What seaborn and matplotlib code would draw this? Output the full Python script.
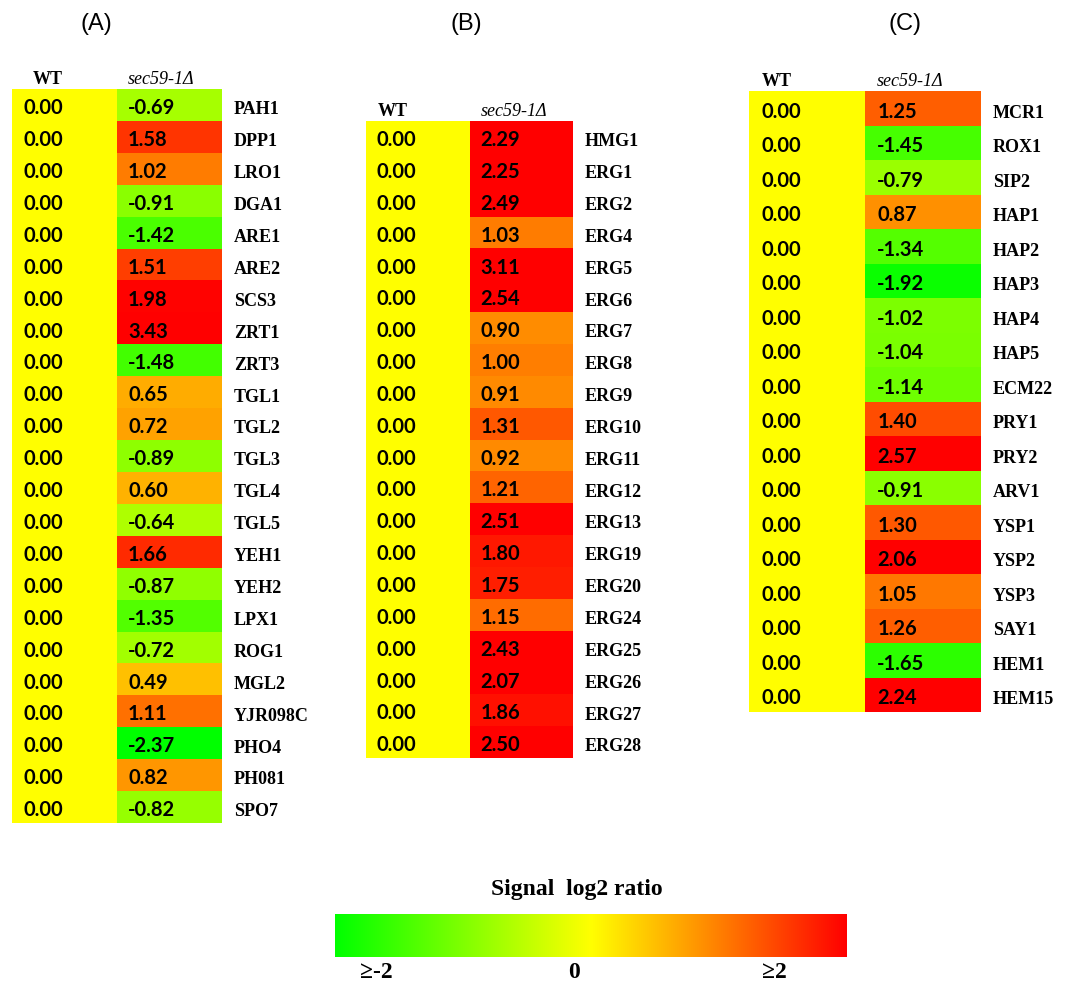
import numpy as np
import pandas as pd
import seaborn as sns
import matplotlib
matplotlib.use("Agg")
import matplotlib.pyplot as plt
from matplotlib.colors import LinearSegmentedColormap

# ---- data -------------------------------------------------------------
genes_a = ["PAH1", "DPP1", "LRO1", "DGA1", "ARE1", "ARE2", "SCS3", "ZRT1",
           "ZRT3", "TGL1", "TGL2", "TGL3", "TGL4", "TGL5", "YEH1", "YEH2",
           "LPX1", "ROG1", "MGL2", "YJR098C", "PHO4", "PH081", "SPO7"]
mut_a = [-0.69, 1.58, 1.02, -0.91, -1.42, 1.51, 1.98, 3.43, -1.48, 0.65,
         0.72, -0.89, 0.60, -0.64, 1.66, -0.87, -1.35, -0.72, 0.49, 1.11,
         -2.37, 0.82, -0.82]

genes_b = ["HMG1", "ERG1", "ERG2", "ERG4", "ERG5", "ERG6", "ERG7", "ERG8",
           "ERG9", "ERG10", "ERG11", "ERG12", "ERG13", "ERG19", "ERG20",
           "ERG24", "ERG25", "ERG26", "ERG27", "ERG28"]
mut_b = [2.29, 2.25, 2.49, 1.03, 3.11, 2.54, 0.90, 1.00, 0.91, 1.31, 0.92,
         1.21, 2.51, 1.80, 1.75, 1.15, 2.43, 2.07, 1.86, 2.50]

genes_c = ["MCR1", "ROX1", "SIP2", "HAP1", "HAP2", "HAP3", "HAP4", "HAP5",
           "ECM22", "PRY1", "PRY2", "ARV1", "YSP1", "YSP2", "YSP3", "SAY1",
           "HEM1", "HEM15"]
mut_c = [1.25, -1.45, -0.79, 0.87, -1.34, -1.92, -1.02, -1.04, -1.14, 1.40,
         2.57, -0.91, 1.30, 2.06, 1.05, 1.26, -1.65, 2.24]

# wild type is the reference strain: log2 ratio 0 for every gene
wt_a = [0.00] * len(genes_a)
wt_b = [0.00] * len(genes_b)
wt_c = [0.00] * len(genes_c)

col_labels = ["WT", "sec59-1\u0394"]
panel_titles = ["(A)", "(B)", "(C)"]
cbar_title = "Signal  log2 ratio"
cbar_labels = ["\u2265-2", "0", "\u22652"]

# ---- figure -----------------------------------------------------------
W, H = 1072, 982
fig = plt.figure(figsize=(W / 100, H / 100), dpi=100)
fig.patch.set_facecolor("white")

cmap = LinearSegmentedColormap.from_list(
    "gyr", [(0.0, "#00ff00"), (0.5, "#ffff00"), (1.0, "#ff0000")])

def px_axes(left, top, right, bottom):
    return fig.add_axes([left / W, 1 - bottom / H, (right - left) / W,
                         (bottom - top) / H])

serif = "Liberation Serif"
panels = [
    (genes_a, wt_a, mut_a, (12, 89, 222, 823), 96, (21, 11)),
    (genes_b, wt_b, mut_b, (366, 121, 573, 758), 466, (12, 11)),
    (genes_c, wt_c, mut_c, (749, 91, 981, 712), 905, (13, 12)),
]

mesh = None
for (genes, wt, mut, box, title_x, head_pad), title in zip(panels, panel_titles):
    ax = px_axes(*box)
    df = pd.DataFrame({col_labels[0]: wt, col_labels[1]: mut}, index=genes)
    sns.heatmap(df, ax=ax, cmap=cmap, vmin=-2, vmax=2, cbar=False,
                annot=True, fmt=".2f", xticklabels=False, yticklabels=False,
                linewidths=0,
                annot_kws=dict(color="black", fontsize=14.5, fontweight="bold",
                               family="Lato"))
    mesh = ax.collections[0]
    # left-align the cell values
    for t in ax.texts:
        x, y = t.get_position()
        t.set_position((x - 0.5 + 0.105, y + 0.1))
        t.set_ha("left")
    ax.set_xlabel("")
    ax.set_ylabel("")
    for s in ax.spines.values():
        s.set_visible(False)

    # gene names on the right
    for i, g in enumerate(genes):
        ax.annotate(g, xy=(1, i + 0.5), xycoords=("axes fraction", "data"),
                    xytext=(8.5, -3.5), textcoords="offset points",
                    ha="left", va="center", fontsize=13, fontweight="bold",
                    family=serif, annotation_clip=False)

    # column headers
    ax.annotate(col_labels[0], xy=(0, 0), xycoords="data",
                xytext=(head_pad[0] * 0.72, 7), textcoords="offset points",
                ha="left", va="center", fontsize=13, fontweight="bold",
                family=serif, annotation_clip=False)
    ax.annotate(col_labels[1], xy=(1, 0), xycoords="data",
                xytext=(head_pad[1] * 0.72, 7), textcoords="offset points",
                ha="left", va="center", fontsize=13, style="italic",
                family=serif, annotation_clip=False)

    fig.text(title_x / W, 1 - 24 / H, title, ha="center", va="center",
             fontsize=17, family="Liberation Sans")

# ---- colour scale -----------------------------------------------------
cax = px_axes(335, 914, 847, 957)
cb = fig.colorbar(mesh, cax=cax, orientation="horizontal")
cb.set_ticks([])
cb.outline.set_visible(False)

fig.text(577 / W, 1 - 889 / H, cbar_title, ha="center", va="center",
         fontsize=17, fontweight="bold", family=serif)
for lab, xpos in zip(cbar_labels, [376, 574, 774]):
    fig.text(xpos / W, 1 - 972 / H, lab, ha="center", va="center",
             fontsize=17, fontweight="bold", family=serif)

fig.savefig("out.png", dpi=100, facecolor="white")
